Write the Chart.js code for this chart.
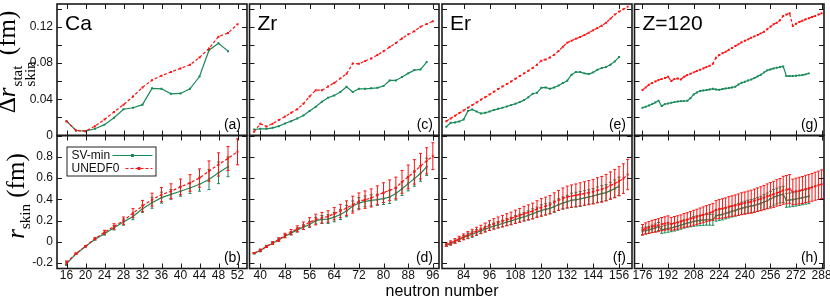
<!DOCTYPE html>
<html>
<head>
<meta charset="utf-8">
<script src="https://cdn.jsdelivr.net/npm/chart.js@4.4.1/dist/chart.umd.min.js"></script>
<style>
    body { margin: 0; background: #fff; }
    #lienzo { position: relative; width: 830px; height: 301px; overflow: hidden; background: #fff; }
    #lienzo canvas { position: absolute; }
    .titulo-y {
        position: absolute; white-space: nowrap; z-index: 2;
        font-family: "Liberation Serif", "DejaVu Serif", serif; font-size: 25px; line-height: 25px;
        transform: translate(-50%, -50%) rotate(-90deg);
    }
    .pila { display: inline-flex; flex-direction: column; font-size: 15px; line-height: 13px; vertical-align: -7px; margin-left: 1px; }
    .titulo-y sub { font-size: 15px; vertical-align: -6px; line-height: 0; }
    #titulo-x {
        position: absolute; left: 442px; top: 283px; transform: translateX(-50%); z-index: 2;
        font-family: "Liberation Sans", Arial, sans-serif; font-size: 16px; line-height: 16px; white-space: nowrap;
    }
</style>
</head>
<body>
<div id="lienzo">
    <div class="titulo-y" style="left:15px; top:62px;">&Delta;<i>r</i><span class="pila"><span>stat</span><span>skin</span></span> (fm)</div>
    <div class="titulo-y" style="left:15px; top:196px;"><i>r</i><sub>skin</sub> (fm)</div>
    <div id="titulo-x">neutron number</div>
</div>
<script>
// Números de neutrones de cada cadena isotópica.
const caNeutrones = [16, 18, 20, 22, 24, 26, 28, 30, 32, 34, 36, 38, 40, 42, 44, 46, 48, 50, 52];
const zrNeutrones = [38, 40, 42, 44, 46, 48, 50, 52, 54, 56, 58, 60, 62, 64, 66, 68, 70, 72, 74, 76,
    78, 80, 82, 84, 86, 88, 90, 92, 94, 96];
const erNeutrones = [76, 78, 80, 82, 84, 86, 88, 90, 92, 94, 96, 98, 100, 102, 104, 106, 108, 110, 112,
    114, 116, 118, 120, 122, 124, 126, 128, 130, 132, 134, 136, 138, 140, 142, 144, 146, 148, 150, 152,
    154, 156, 158, 160];
const z120Neutrones = [176, 178, 180, 182, 184, 186, 188, 190, 192, 194, 196, 198, 200, 202, 204, 206,
    208, 210, 212, 214, 216, 218, 220, 222, 224, 226, 228, 230, 232, 234, 236, 238, 240, 242, 244, 246,
    248, 250, 252, 254, 256, 258, 260, 262, 264, 266, 268, 270, 272, 274, 276, 278, 280, 282, 284, 286, 288];

// Error estadístico del espesor de piel (fila superior).
const caStatSvmin = [0.0158, 0.0055, 0.0048, 0.0074, 0.012, 0.0195, 0.029, 0.0306, 0.034, 0.052, 0.0515,
    0.046, 0.0464, 0.0515, 0.065, 0.094, 0.1016, 0.093];
const caStatUnedf0 = [0.0158, 0.0055, 0.0048, 0.0103, 0.0177, 0.026, 0.034, 0.043, 0.053, 0.061, 0.066,
    0.070, 0.074, 0.078, 0.086, 0.096, 0.109, 0.113, 0.1226];
const zrStatSvmin = [0.0066, 0.0074, 0.0074, 0.0085, 0.0103, 0.0133, 0.0158, 0.0188, 0.022, 0.0269, 0.0317,
    0.0372, 0.0416, 0.0442, 0.0479, 0.0537, 0.0479, 0.0515, 0.0515, 0.052, 0.0526, 0.0545, 0.0607, 0.0607,
    0.0644, 0.0685, 0.0721, 0.0729, 0.081];
const zrStatUnedf0 = [0.004, 0.013, 0.010, 0.013, 0.017, 0.021, 0.025, 0.029, 0.035, 0.043, 0.050, 0.050,
    0.054, 0.058, 0.063, 0.068, 0.0795, 0.079, 0.082, 0.085, 0.0887, 0.093, 0.0975, 0.102, 0.107, 0.1115,
    0.115, 0.120, 0.123, 0.126];
const erStatSvmin = [0.0096, 0.014, 0.0144, 0.0155, 0.0177, 0.0269, 0.0287, 0.0265, 0.0243, 0.025, 0.0265,
    0.028, 0.0294, 0.0306, 0.032, 0.0335, 0.035, 0.0368, 0.039, 0.0423, 0.046, 0.0471, 0.0526, 0.053, 0.0515,
    0.053, 0.0552, 0.0578, 0.0604, 0.067, 0.0699, 0.0699, 0.0685, 0.0677, 0.0696, 0.0725, 0.0744, 0.0755,
    0.078, 0.0817, 0.0865];
const erStatUnedf0 = [0.0158, 0.0188, 0.0217, 0.0247, 0.0276, 0.0306, 0.0335, 0.0364, 0.0394, 0.0423, 0.0453,
    0.0482, 0.0512, 0.0541, 0.0567, 0.0596, 0.0626, 0.0655, 0.0685, 0.0714, 0.0744, 0.078, 0.0825, 0.0839,
    0.0861, 0.0891, 0.0931, 0.0979, 0.1023, 0.1045, 0.1067, 0.1086, 0.1108, 0.1134, 0.116, 0.1185, 0.1211,
    0.1244, 0.1288, 0.1333, 0.1366, 0.1391, 0.1421];
const z120StatSvmin = [0.0306, 0.0317, 0.0331, 0.0346, 0.0364, 0.0383, 0.0324, 0.0346, 0.0353, 0.0361,
    0.0368, 0.0375, 0.0379, 0.0379, 0.0383, 0.0412, 0.0453, 0.0475, 0.049, 0.0497, 0.0501, 0.0508, 0.0515,
    0.0508, 0.0504, 0.0512, 0.0519, 0.0523, 0.053, 0.0537, 0.0563, 0.0582, 0.0593, 0.0607, 0.0618, 0.0633,
    0.0652, 0.067, 0.0696, 0.0718, 0.0729, 0.074, 0.0747, 0.0755, 0.0762, 0.0655, 0.0655, 0.0655, 0.0659,
    0.0663, 0.0666, 0.0674, 0.0685];
const z120StatUnedf0 = [0.0501, 0.053, 0.056, 0.0578, 0.0596, 0.0611, 0.0622, 0.0633, 0.0648, 0.060, 0.0622,
    0.0629, 0.0618, 0.0648, 0.0666, 0.0681, 0.0696, 0.071, 0.0725, 0.074, 0.0755, 0.0769, 0.0791, 0.0858,
    0.0887, 0.0906, 0.0924, 0.0946, 0.0964, 0.0987, 0.1005, 0.1027, 0.1045, 0.106, 0.1079, 0.1093, 0.1108,
    0.1126, 0.1145, 0.1171, 0.120, 0.1226, 0.1244, 0.127, 0.1318, 0.1333, 0.1347, 0.1207, 0.1233, 0.1252,
    0.1266, 0.1281, 0.1292, 0.1307, 0.1318, 0.1333, 0.1347];

// Espesor de piel (fila inferior); sus barras de error son los valores de arriba.
const caSkinSvmin = [-0.205, -0.113, -0.044, 0.025, 0.076, 0.132, 0.186, 0.239, 0.312, 0.368, 0.416, 0.447,
    0.476, 0.507, 0.542, 0.586, 0.649, 0.706];
const caSkinUnedf0 = [-0.195, -0.11, -0.04, 0.03, 0.091, 0.145, 0.2, 0.27, 0.337, 0.397, 0.444, 0.476, 0.517,
    0.554, 0.6, 0.665, 0.728, 0.784, 0.847];
const zrSkinSvmin = [-0.107, -0.082, -0.044, -0.013, 0.019, 0.054, 0.082, 0.113, 0.139, 0.164, 0.2, 0.211,
    0.214, 0.233, 0.258, 0.29, 0.337, 0.365, 0.381, 0.39, 0.397, 0.406, 0.422, 0.454, 0.5, 0.548, 0.595,
    0.643, 0.706];
const zrSkinUnedf0 = [-0.105, -0.08, -0.043, -0.01, 0.022, 0.06, 0.092, 0.122, 0.152, 0.185, 0.21, 0.227,
    0.239, 0.265, 0.29, 0.318, 0.35, 0.381, 0.397, 0.413, 0.438, 0.463, 0.485, 0.507, 0.564, 0.611, 0.658,
    0.712, 0.762, 0.806];
const erSkinSvmin = [-0.031, -0.016, 0.003, 0.022, 0.041, 0.057, 0.072, 0.088, 0.104, 0.12, 0.135, 0.148,
    0.161, 0.173, 0.186, 0.198, 0.211, 0.224, 0.236, 0.249, 0.265, 0.28, 0.296, 0.306, 0.315, 0.331, 0.35,
    0.365, 0.378, 0.391, 0.397, 0.403, 0.413, 0.422, 0.431, 0.444, 0.454, 0.463, 0.482, 0.501, 0.523];
const erSkinUnedf0 = [-0.025, -0.009, 0.009, 0.028, 0.047, 0.066, 0.085, 0.101, 0.117, 0.135, 0.154, 0.17,
    0.183, 0.195, 0.208, 0.22, 0.236, 0.249, 0.265, 0.277, 0.29, 0.309, 0.324, 0.337, 0.35, 0.372, 0.391,
    0.409, 0.422, 0.431, 0.438, 0.447, 0.454, 0.463, 0.472, 0.485, 0.494, 0.51, 0.529, 0.548, 0.57, 0.595, 0.633];
const z120SkinSvmin = [0.101, 0.107, 0.113, 0.123, 0.132, 0.145, 0.113, 0.12, 0.126, 0.132, 0.139, 0.148,
    0.157, 0.167, 0.176, 0.183, 0.192, 0.198, 0.202, 0.205, 0.208, 0.208, 0.208, 0.246, 0.252, 0.258, 0.268,
    0.277, 0.287, 0.296, 0.306, 0.315, 0.324, 0.331, 0.337, 0.343, 0.353, 0.362, 0.375, 0.387, 0.403, 0.419,
    0.431, 0.441, 0.447, 0.391, 0.394, 0.397, 0.403, 0.409, 0.416, 0.422, 0.428];
const z120SkinUnedf0 = [0.113, 0.126, 0.135, 0.145, 0.151, 0.157, 0.167, 0.173, 0.18, 0.17, 0.176, 0.183,
    0.192, 0.202, 0.208, 0.217, 0.227, 0.236, 0.246, 0.255, 0.265, 0.274, 0.283, 0.302, 0.309, 0.315, 0.321,
    0.331, 0.337, 0.343, 0.35, 0.359, 0.365, 0.372, 0.378, 0.387, 0.397, 0.406, 0.416, 0.428, 0.438, 0.447,
    0.46, 0.469, 0.485, 0.491, 0.498, 0.469, 0.476, 0.482, 0.488, 0.498, 0.504, 0.513, 0.523, 0.532, 0.542];

// Marcas de los ejes.
const caTicks = [16, 20, 24, 28, 32, 36, 40, 44, 48, 52];
const zrTicks = [40, 48, 56, 64, 72, 80, 88, 96];
const erTicks = [84, 96, 108, 120, 132, 144, 156];
const z120Ticks = [176, 192, 208, 224, 240, 256, 272, 288];
const statTicks = [0, 0.02, 0.04, 0.06, 0.08, 0.10, 0.12, 0.14];
const statEtiquetas = [0, 0.04, 0.08, 0.12];
const skinTicks = [-0.2, 0, 0.2, 0.4, 0.6, 0.8];
const skinEtiquetas = [-0.2, 0, 0.2, 0.4, 0.6, 0.8];

// Geometría de la figura (coordenadas de la ventana).
const COLUMNAS = [[57, 247], [249.5, 439], [442, 632], [634.5, 824]];
const FILAS = [[4, 135.5], [135.5, 268.5]];
const OX = 50, OY = 30, CW = 930, CH = 361;
const VERDE = 'rgb(24,138,88)';
const ROJO = 'rgb(255,18,18)';

Chart.defaults.font.family = '"Liberation Sans", Arial, sans-serif';
Chart.defaults.color = '#111';

/*
*   Plugin para dibujar el marco y las marcas interiores en los cuatro lados.
*/
const marco = {
    id: 'marco',
    afterDraw(chart) {
        const { ctx, chartArea: a, scales: { x, y } } = chart;
        ctx.save();
        ctx.strokeStyle = '#1a1a1a';
        ctx.lineWidth = 1;
        ctx.beginPath();
        x.ticks.forEach((t) => {
            const px = Math.round(x.getPixelForValue(t.value)) + 0.5;
            ctx.moveTo(px, a.bottom); ctx.lineTo(px, a.bottom - 5);
            ctx.moveTo(px, a.top); ctx.lineTo(px, a.top + 5);
        });
        y.ticks.forEach((t) => {
            const py = Math.round(y.getPixelForValue(t.value)) + 0.5;
            ctx.moveTo(a.left, py); ctx.lineTo(a.left + 5, py);
            ctx.moveTo(a.right, py); ctx.lineTo(a.right - 5, py);
        });
        ctx.stroke();
        ctx.lineWidth = 1.6;
        ctx.strokeRect(a.left, a.top, a.right - a.left, a.bottom - a.top);
        ctx.restore();
    }
};

/*
*   Plugin para las barras de error verticales de cada serie.
*/
const barras = {
    id: 'barras',
    beforeDatasetDraw(chart, args) {
        const ds = chart.data.datasets[args.index];
        if (!ds.errores) return;
        const { ctx, chartArea: a, scales: { x, y } } = chart;
        ctx.save();
        ctx.beginPath();
        ctx.rect(a.left, a.top, a.right - a.left, a.bottom - a.top);
        ctx.clip();
        ctx.strokeStyle = ds.borderColor;
        ctx.lineWidth = 1;
        ctx.beginPath();
        ds.data.forEach((p, i) => {
            const e = ds.errores[i];
            const px = x.getPixelForValue(p.x);
            const y1 = y.getPixelForValue(p.y - e);
            const y2 = y.getPixelForValue(p.y + e);
            ctx.moveTo(px, y1); ctx.lineTo(px, y2);
            ctx.moveTo(px - 1.5, y1); ctx.lineTo(px + 1.5, y1);
            ctx.moveTo(px - 1.5, y2); ctx.lineTo(px + 1.5, y2);
        });
        ctx.stroke();
        ctx.restore();
    }
};

/*
*   Plugin para el nombre del elemento y la letra del panel.
*/
const rotulos = {
    id: 'rotulos',
    afterDraw(chart, args, opts) {
        const { ctx, chartArea: a } = chart;
        ctx.save();
        ctx.fillStyle = '#000';
        ctx.textBaseline = 'alphabetic';
        if (opts.nombre) {
            ctx.font = '21px "Liberation Sans", Arial, sans-serif';
            ctx.textAlign = 'left';
            ctx.fillText(opts.nombre, a.left + 8, a.top + 26);
        }
        ctx.font = '14px "Liberation Sans", Arial, sans-serif';
        ctx.textAlign = 'right';
        ctx.fillText(opts.letra, a.right - 6, a.bottom - 7);
        ctx.restore();
    }
};

/*
*   Plugin para la leyenda del panel (b): texto a la izquierda y muestra de línea a la derecha.
*/
const leyenda = {
    id: 'leyenda',
    afterDraw(chart) {
        const { ctx, chartArea: a } = chart;
        const [sv, un] = [chart.data.datasets[1], chart.data.datasets[0]];
        const x0 = a.left + 9.5, y0 = a.top + 11;
        ctx.save();
        ctx.fillStyle = '#fff';
        ctx.fillRect(x0, y0, 89, 29);
        ctx.strokeStyle = '#222';
        ctx.lineWidth = 1;
        ctx.strokeRect(x0 + 0.5, y0 + 0.5, 89, 29);
        ctx.font = '12px "Liberation Sans", Arial, sans-serif';
        ctx.fillStyle = '#111';
        ctx.textBaseline = 'middle';
        ctx.textAlign = 'left';
        const filas = [[sv, y0 + 9, 46], [un, y0 + 22, 59]];
        filas.forEach(([ds, yy, desde]) => {
            ctx.fillText(ds.label, x0 + 5, yy);
            ctx.strokeStyle = ds.borderColor;
            ctx.lineWidth = ds.borderWidth;
            ctx.setLineDash(ds.borderDash || []);
            ctx.beginPath();
            ctx.moveTo(x0 + desde, yy); ctx.lineTo(x0 + 86, yy);
            ctx.stroke();
            ctx.setLineDash([]);
            ctx.fillStyle = ds.borderColor;
            ctx.fillRect(x0 + (desde + 86) / 2 - 1.5, yy - 1.5, 3, 3);
            ctx.fillStyle = '#111';
        });
        ctx.restore();
    }
};

const aPuntos = (neutrones, valores) => valores.map((v, i) => ({ x: neutrones[i], y: v }));
const formato = (v) => String(+v.toFixed(2));

/*
*   Función para crear un panel en su posición de la cuadrícula.
*   Parámetros: col, fila, rango x, marcas x, series, rótulos y plugins extra.
*/
const crearPanel = (col, fila, xMin, xMax, xTicks, series, opcionesRotulos, extra = []) => {
    const [L, R] = COLUMNAS[col];
    const [T, B] = FILAS[fila];
    const YW = col === 0 ? 45 : 0;
    const XH = fila === 1 ? 24 : 0;
    const yTicks = fila === 0 ? statTicks : skinTicks;
    const yEtiquetas = fila === 0 ? statEtiquetas : skinEtiquetas;
    const canvas = document.createElement('canvas');
    canvas.width = CW;
    canvas.height = CH;
    canvas.style.left = -OX + 'px';
    canvas.style.top = -OY + 'px';
    document.getElementById('lienzo').appendChild(canvas);
    const estilo = (ds) => ({
        label: ds.label,
        data: ds.data,
        errores: ds.errores,
        order: ds.order,
        borderColor: ds.color,
        backgroundColor: ds.color,
        borderWidth: 1.2,
        borderDash: ds.dash,
        pointRadius: 1.4,
        pointStyle: 'rect',
        pointBorderWidth: 0,
        pointBackgroundColor: ds.color,
        tension: 0,
        fill: false
    });
    return new Chart(canvas, {
        type: 'line',
        data: { datasets: series.map(estilo) },
        options: {
            responsive: false,
            animation: false,
            devicePixelRatio: 1,
            layout: { padding: { left: L + OX - YW, top: T + OY, right: CW - R - OX, bottom: CH - B - OY - XH } },
            plugins: { legend: { display: false }, tooltip: { enabled: false }, rotulos: opcionesRotulos },
            scales: {
                x: {
                    type: 'linear', min: xMin, max: xMax,
                    afterBuildTicks: (s) => { s.ticks = xTicks.map((v) => ({ value: v })); },
                    afterFit: (s) => { s.height = XH; },
                    grid: { display: false, drawTicks: false },
                    border: { display: false },
                    ticks: { display: fila === 1, autoSkip: false, maxRotation: 0, padding: 0, font: { size: 12 } }
                },
                y: {
                    type: 'linear', min: fila === 0 ? 0 : -0.25, max: fila === 0 ? 0.145 : 1.0,
                    afterBuildTicks: (s) => { s.ticks = yTicks.map((v) => ({ value: v })); },
                    afterFit: (s) => { s.width = YW; },
                    grid: { display: false, drawTicks: false },
                    border: { display: false },
                    ticks: {
                        display: col === 0, autoSkip: false, padding: 4, font: { size: 12 },
                        callback: (v) => yEtiquetas.some((e) => Math.abs(e - v) < 1e-9) ? formato(v) : ''
                    }
                }
            }
        },
        plugins: [barras, marco, rotulos, ...extra]
    });
};

// Definición de los cuatro elementos (columnas).
const elementos = [
    { n: caNeutrones, min: 14, max: 54, ticks: caTicks, nombre: 'Ca', letras: ['(a)', '(b)'],
      statSv: caStatSvmin, statUn: caStatUnedf0, skinSv: caSkinSvmin, skinUn: caSkinUnedf0 },
    { n: zrNeutrones, min: 36.5, max: 98, ticks: zrTicks, nombre: 'Zr', letras: ['(c)', '(d)'],
      statSv: zrStatSvmin, statUn: zrStatUnedf0, skinSv: zrSkinSvmin, skinUn: zrSkinUnedf0 },
    { n: erNeutrones, min: 74, max: 162, ticks: erTicks, nombre: 'Er', letras: ['(e)', '(f)'],
      statSv: erStatSvmin, statUn: erStatUnedf0, skinSv: erSkinSvmin, skinUn: erSkinUnedf0 },
    { n: z120Neutrones, min: 171, max: 289.5, ticks: z120Ticks, nombre: 'Z=120', letras: ['(g)', '(h)'],
      statSv: z120StatSvmin, statUn: z120StatUnedf0, skinSv: z120SkinSvmin, skinUn: z120SkinUnedf0 }
];

elementos.forEach((el, col) => {
    // Fila superior: error estadístico.
    crearPanel(col, 0, el.min, el.max, el.ticks, [
        { label: 'UNEDF0', data: aPuntos(el.n, el.statUn), color: ROJO, dash: [3, 2], order: 1 },
        { label: 'SV-min', data: aPuntos(el.n, el.statSv), color: VERDE, dash: [], order: 2 }
    ], { nombre: el.nombre, letra: el.letras[0] });
    // Fila inferior: espesor de piel con barras de error.
    crearPanel(col, 1, el.min, el.max, el.ticks, [
        { label: 'UNEDF0', data: aPuntos(el.n, el.skinUn), errores: el.statUn, color: ROJO, dash: [3, 2], order: 1 },
        { label: 'SV-min', data: aPuntos(el.n, el.skinSv), errores: el.statSv, color: VERDE, dash: [], order: 2 }
    ], { nombre: '', letra: el.letras[1] }, col === 0 ? [leyenda] : []);
});
</script>
</body>
</html>
